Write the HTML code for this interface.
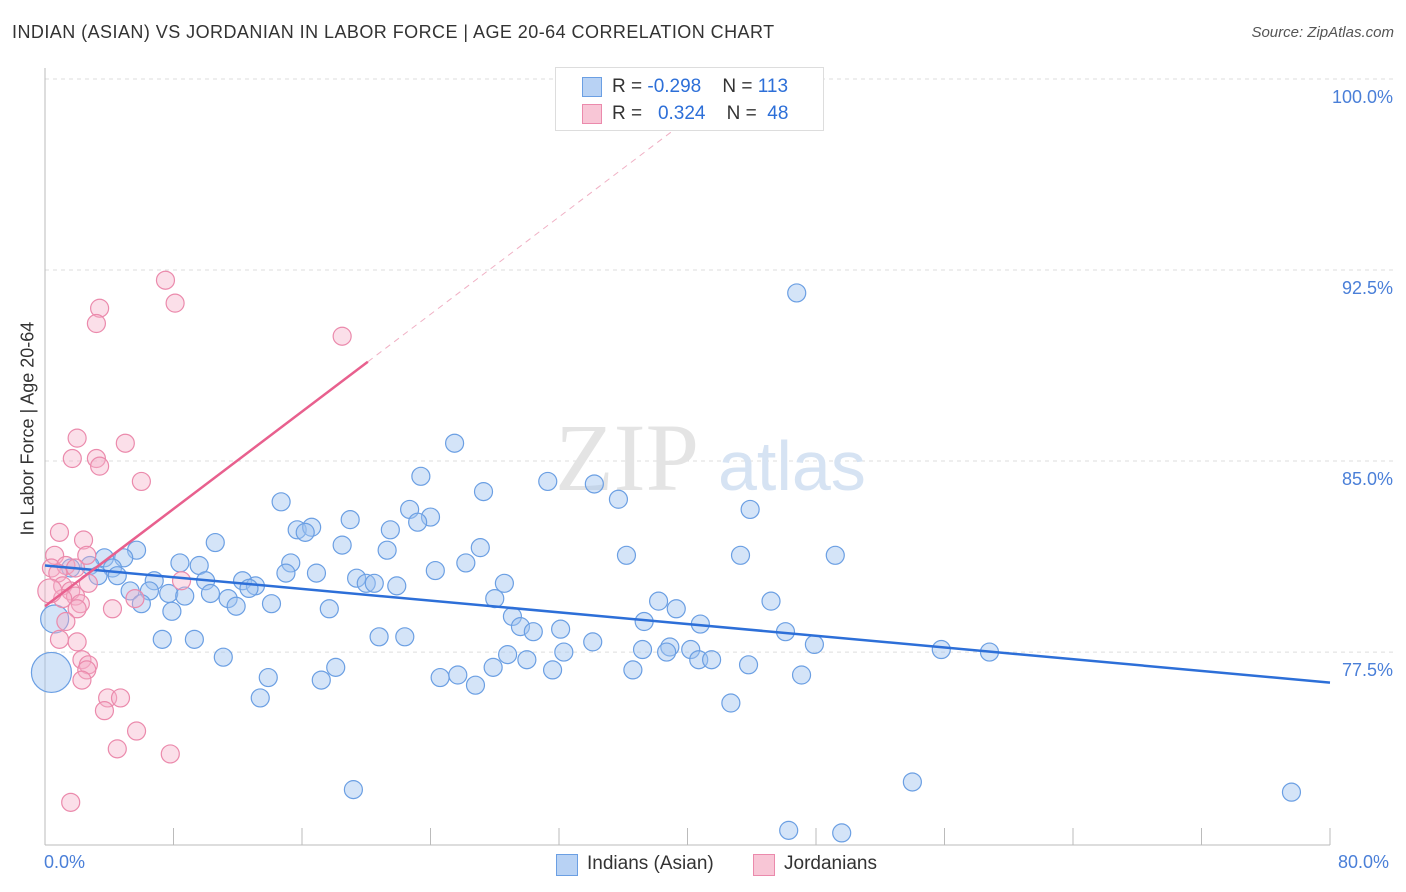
<!DOCTYPE html>
<html><head><meta charset="utf-8"><style>
body{margin:0;background:#fff;font-family:"Liberation Sans",sans-serif;}
#wrap{position:relative;width:1406px;height:892px;overflow:hidden;}
.t{position:absolute;white-space:nowrap;}
</style></head><body>
<div id="wrap">
<div class="t" style="left:12px;top:22px;font-size:18px;color:#333;letter-spacing:0.45px">INDIAN (ASIAN) VS JORDANIAN IN LABOR FORCE | AGE 20-64 CORRELATION CHART</div>
<div class="t" style="right:12px;top:24px;font-size:15px;color:#555;font-style:italic">Source: ZipAtlas.com</div>
<svg id="chart" width="1406" height="892" style="position:absolute;left:0;top:0"></svg>
</div>
<script>
const blueX=[46.8,25.5,23.4,31.3,34.2,27.3,35.7,14.7,22.7,43.9,19.0,24.0,23.2,15.7,16.6,21.5,16.2,10.6,18.5,27.1,21.3,5.7,36.2,43.3,49.2,4.9,3.7,8.4,15.3,26.2,9.6,2.8,1.6,4.2,15.0,16.9,24.3,3.3,4.5,19.4,12.3,10.0,6.8,28.6,20.0,20.5,13.1,21.9,12.7,5.3,6.5,7.7,10.3,8.7,11.4,28.0,38.2,45.2,6.0,11.9,14.1,7.9,17.7,39.3,29.1,37.3,29.6,40.8,32.1,30.4,46.1,20.8,22.4,7.3,9.3,34.1,47.9,37.2,38.9,40.2,55.8,58.8,32.3,38.7,28.8,30.0,40.7,41.5,11.1,43.8,18.1,27.9,31.6,36.6,24.6,25.7,13.9,47.1,17.2,26.8,13.4,42.7,54.0,19.2,77.6,46.3,49.6,0.4,0.6];
const blueY=[91.6,85.7,84.4,84.2,84.1,83.8,83.5,83.4,83.1,83.1,82.7,82.8,82.6,82.3,82.4,82.3,82.2,81.8,81.7,81.6,81.5,81.5,81.3,81.3,81.3,81.2,81.2,81.0,81.0,81.0,80.9,80.9,80.8,80.8,80.6,80.6,80.7,80.5,80.5,80.4,80.3,80.3,80.3,80.2,80.2,80.2,80.1,80.1,80.0,79.9,79.9,79.8,79.8,79.7,79.6,79.6,79.5,79.5,79.4,79.3,79.4,79.1,79.2,79.2,78.9,78.7,78.5,78.6,78.4,78.3,78.3,78.1,78.1,78.0,78.0,77.9,77.8,77.6,77.7,77.6,77.6,77.5,77.5,77.5,77.4,77.2,77.2,77.2,77.3,77.0,76.9,76.9,76.8,76.8,76.5,76.6,76.5,76.6,76.4,76.2,75.7,75.5,72.4,72.1,72.0,70.5,70.4,76.7,78.8];
const blueR=[];for(let i=0;i<blueX.length;i++)blueR.push(9);blueR[blueR.length-2]=20;blueR[blueR.length-1]=14;
const pinkX=[7.5,8.1,3.4,3.2,18.5,2.0,5.0,1.7,3.2,3.4,6.0,0.9,2.4,0.6,2.6,0.4,1.3,1.9,0.8,8.5,2.7,1.1,1.6,1.9,5.6,1.1,2.2,4.2,2.0,1.3,0.9,2.0,2.3,2.7,2.6,2.3,3.9,4.7,3.7,5.7,4.5,7.8,1.6,0.3];
const pinkY=[92.1,91.2,91.0,90.4,89.9,85.9,85.7,85.1,85.1,84.8,84.2,82.2,81.9,81.3,81.3,80.8,80.9,80.8,80.6,80.3,80.2,80.1,79.9,79.7,79.6,79.6,79.4,79.2,79.2,78.7,78.0,77.9,77.2,77.0,76.8,76.4,75.7,75.7,75.2,74.4,73.7,73.5,71.6,79.9];
const blueTrend=[0,80.9,80,76.3];
const pinkTrend=[0,79.3,20.1,88.9];
const yTicks=[100,92.5,85,77.5];
const yTickLabels=["100.0%","92.5%","85.0%","77.5%"];

const X0=45,X1=1330,Y100=79,PPU=25.47;
const sx=v=>X0+(v/80)*(X1-X0);
const sy=v=>Y100+(100-v)*PPU;
const svg=document.getElementById('chart');const NS='http://www.w3.org/2000/svg';
function mk(tag,attrs){const e=document.createElementNS(NS,tag);for(const k in attrs)e.setAttribute(k,attrs[k]);svg.appendChild(e);return e;}
yTicks.forEach((v,i)=>{
 const g=mk('line',{x1:X0,x2:1395,y1:sy(v),y2:sy(v),stroke:'#ddd','stroke-dasharray':'4,4'});
 
 
 const t=mk('text',{x:1393,y:sy(v)+24,'text-anchor':'end','font-size':18,fill:'#4a7fd8','font-family':'Liberation Sans'});
 t.textContent=yTickLabels[i];
 
 
});
let a=mk('line',{x1:X0,x2:X0,y1:68,y2:845,stroke:'#bbb'});


a=mk('line',{x1:X0,x2:X1,y1:845,y2:845,stroke:'#bbb'});


for(let i=0;i<=10;i++){const x=X0+i*(X1-X0)/10;const tk=mk('line',{x1:x,x2:x,y1:828,y2:845,stroke:'#bbb'});
 
 }
let w=mk('text',{x:555,y:490,'font-size':96,fill:'#e4e4e4','font-family':'Liberation Serif'});w.textContent='ZIP';


w=mk('text',{x:718,y:490,'font-size':70,fill:'#d6e3f3','font-family':'Liberation Sans'});w.textContent='atlas';


blueX.forEach((x,i)=>{const c=mk('circle',{cx:sx(x),cy:sy(blueY[i]),r:blueR[i],fill:'rgba(160,195,240,0.45)',stroke:'#6b9fe3','stroke-width':1.2});
 
 });
pinkX.forEach((x,i)=>{const c=mk('circle',{cx:sx(x),cy:sy(pinkY[i]),r:i==pinkX.length-1?12:9,fill:'rgba(245,175,200,0.4)',stroke:'#eb8aac','stroke-width':1.2});
 
 });
let l=mk('line',{x1:sx(blueTrend[0]),y1:sy(blueTrend[1]),x2:sx(blueTrend[2]),y2:sy(blueTrend[3]),stroke:'#2d6fd8','stroke-width':2.5});


const slope=(pinkTrend[3]-pinkTrend[1])/(pinkTrend[2]-pinkTrend[0]);
const xEnd=pinkTrend[0]+(100-pinkTrend[1])/slope;
l=mk('line',{x1:sx(pinkTrend[2]),y1:sy(pinkTrend[3]),x2:sx(xEnd),y2:sy(100),stroke:'#f0b0c4','stroke-width':1,'stroke-dasharray':'6,5'});


l=mk('line',{x1:sx(pinkTrend[0]),y1:sy(pinkTrend[1]),x2:sx(pinkTrend[2]),y2:sy(pinkTrend[3]),stroke:'#e8608e','stroke-width':2.5});


</script>
<div class="t" style="left:44px;top:852px;font-size:18px;color:#4a7fd8">0.0%</div>
<div class="t" style="left:1338px;top:852px;font-size:18px;color:#4a7fd8">80.0%</div>
<div class="t" style="left:-52px;top:445px;font-size:18px;color:#333;transform:rotate(-90deg);width:160px;text-align:center">In Labor Force | Age 20-64</div>
<div style="position:absolute;left:555px;top:67px;width:267px;height:62px;border:1px solid #ddd;background:#fff;font-size:19px;color:#333">
 <div style="position:absolute;left:26px;top:9px;width:18px;height:18px;background:#b8d2f4;border:1px solid #6b9fe3"></div>
 <div class="t" style="left:56px;top:8px">R = <span style="color:#2d6fd8">-0.298</span>&nbsp;&nbsp;&nbsp; N = <span style="color:#2d6fd8">113</span></div>
 <div style="position:absolute;left:26px;top:36px;width:18px;height:18px;background:#f8c6d6;border:1px solid #eb8aac"></div>
 <div class="t" style="left:56px;top:35px">R = &nbsp;&nbsp;<span style="color:#2d6fd8">0.324</span>&nbsp;&nbsp;&nbsp; N = &nbsp;<span style="color:#2d6fd8">48</span></div>
</div>
<div style="position:absolute;left:556px;top:853px;font-size:19px;color:#333">
 <div style="position:absolute;left:0;top:1px;width:20px;height:20px;background:#b8d2f4;border:1px solid #6b9fe3"></div>
 <div class="t" style="left:31px;top:0">Indians (Asian)</div></div>
<div style="position:absolute;left:753px;top:853px;font-size:19px;color:#333">
 <div style="position:absolute;left:0;top:1px;width:20px;height:20px;background:#f8c6d6;border:1px solid #eb8aac"></div>
 <div class="t" style="left:31px;top:0">Jordanians</div></div>
</body></html>
